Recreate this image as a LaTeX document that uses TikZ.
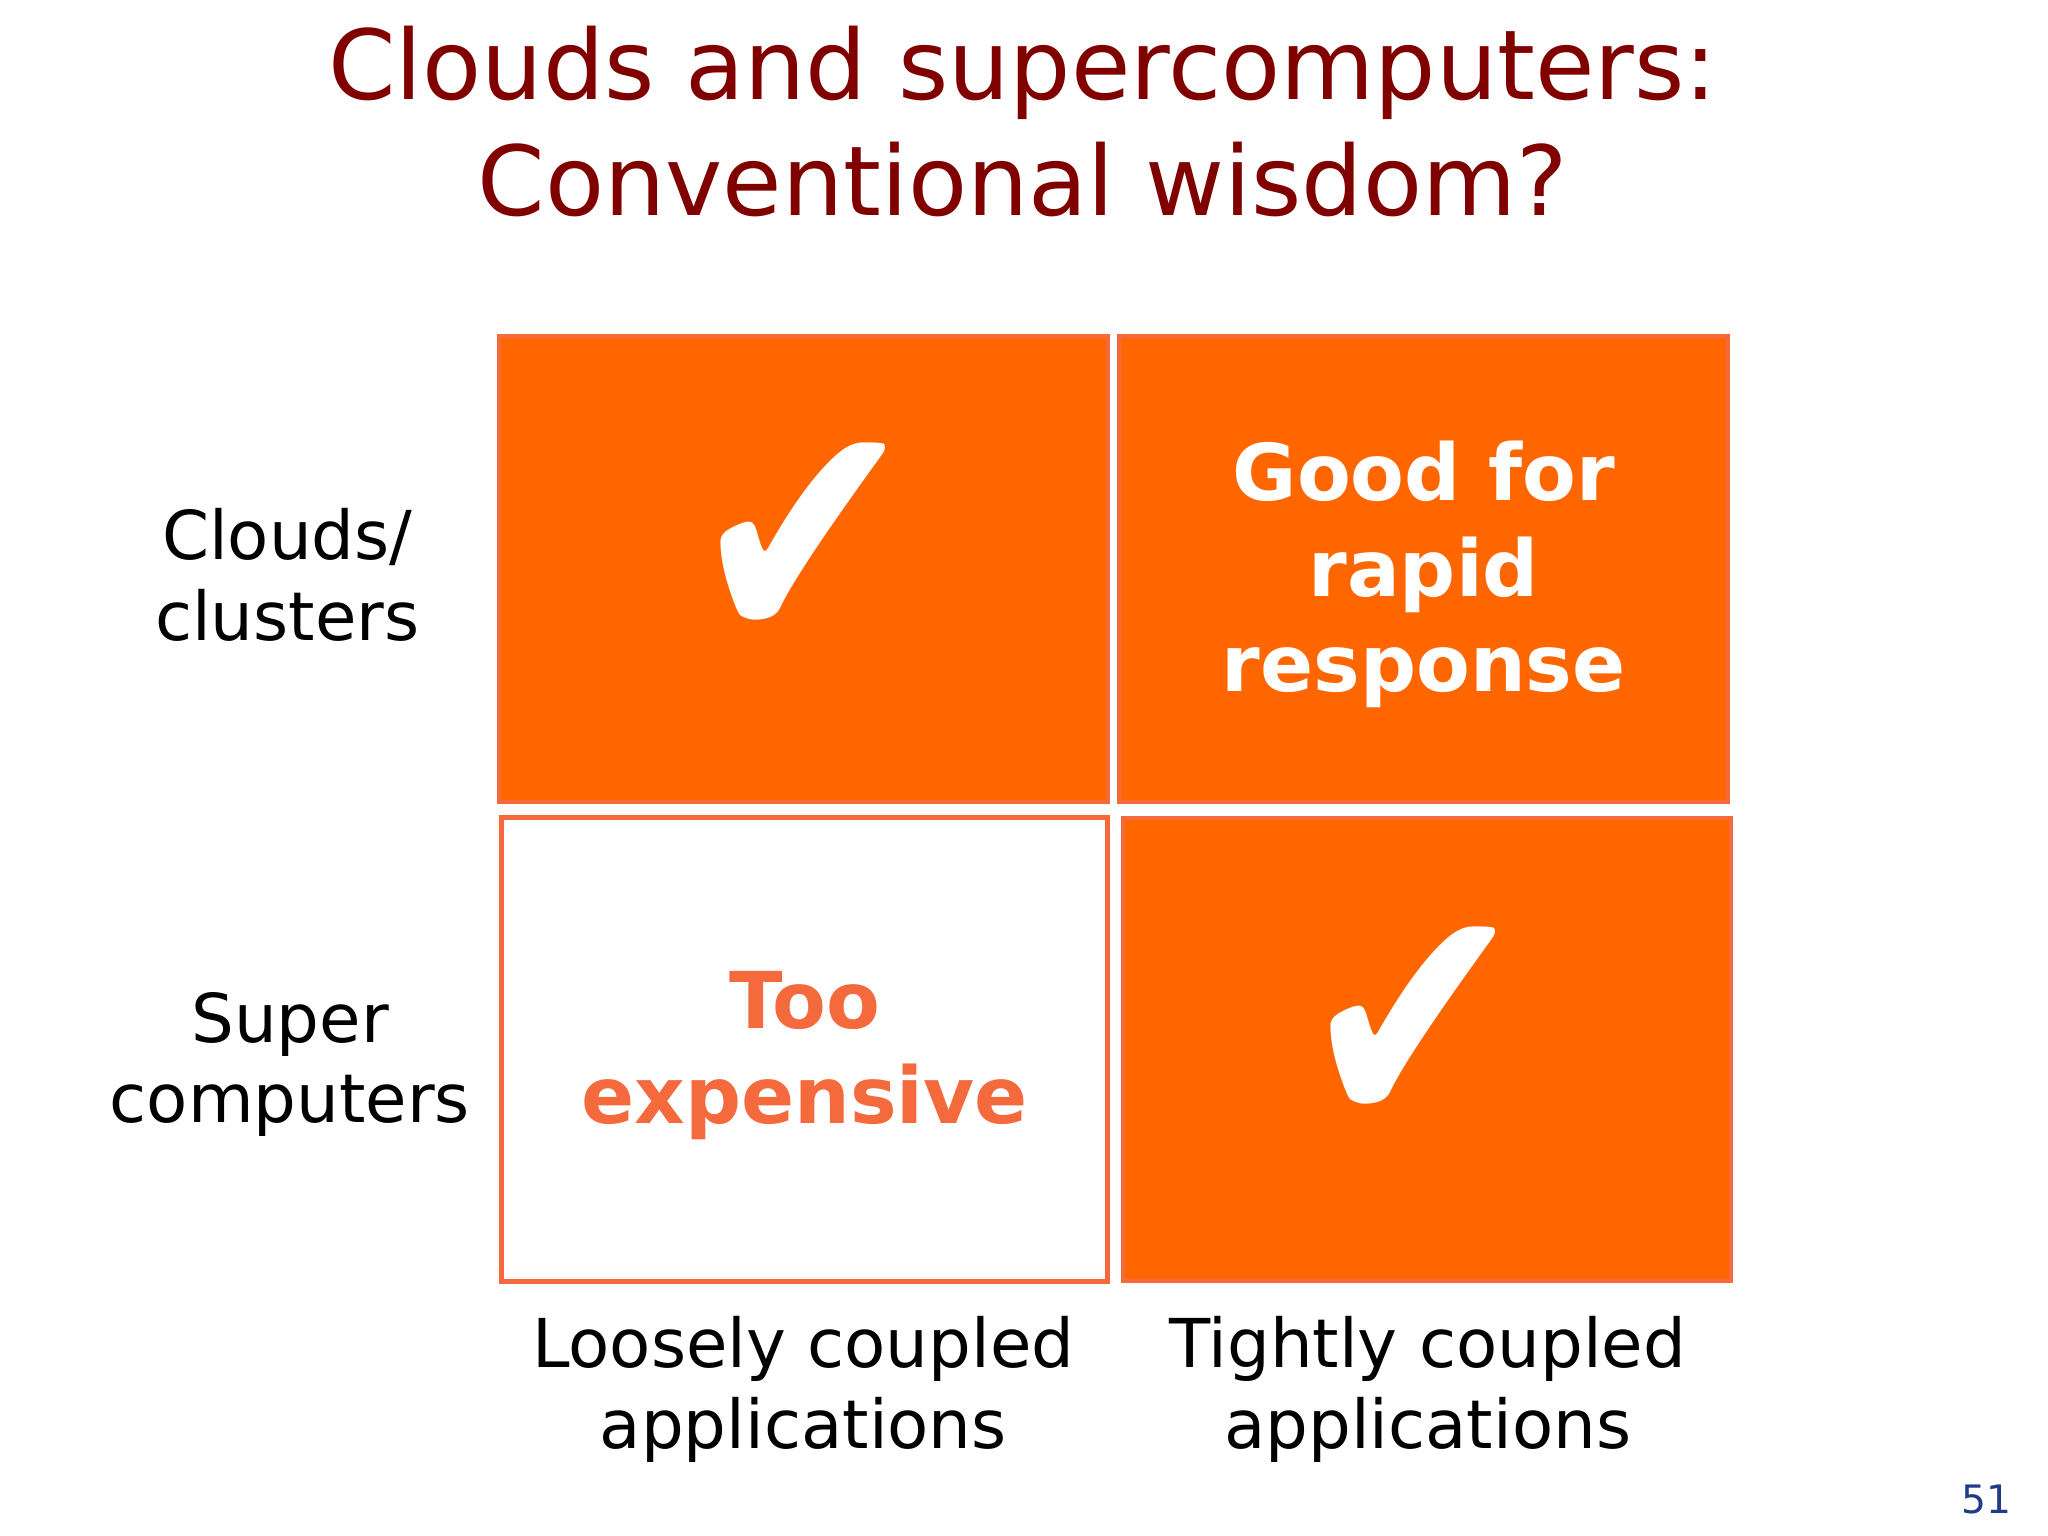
\documentclass[tikz,border=0pt]{standalone}
\usepackage{fontspec}
\setmainfont{DejaVu Sans}
\definecolor{titlered}{HTML}{800000}
\definecolor{orng}{HTML}{FF6600}
\definecolor{lorng}{HTML}{F46A3C}
\definecolor{pgblue}{HTML}{1F3C88}
\begin{document}
\begin{tikzpicture}[x=0.5pt,y=-0.5pt,
  cell/.style={fill=orng,draw=lorng,line width=1.5pt},
  lbl/.style={align=center,font=\fontsize{25.8}{31}\selectfont},
  wtxt/.style={align=center,text=white,font=\bfseries\fontsize{30}{36.5}\selectfont},
  chk/.style={text=white,font=\fontsize{104}{110}\selectfont,yscale=1.2}]
\useasboundingbox (0,0) rectangle (1568,1176);
\node[align=center,text=titlered,font=\fontsize{37}{44.5}\selectfont] (title) at (783,93) {Clouds and supercomputers:\\Conventional wisdom?};
\draw[cell] (382,257) rectangle (848,614);
\draw[cell] (857,257) rectangle (1323,614);
\draw[draw=lorng,line width=2pt,fill=white] (384,626) rectangle (848,981);
\draw[cell] (860,626) rectangle (1325,981);
\node[chk] (c1) at (615,418) {✔};
\node[chk] (c2) at (1082,788) {✔};
\node[wtxt] (g) at (1090,440) {Good for\\rapid\\response};
\node[wtxt,text=lorng] (t) at (616,808) {Too\\expensive};
\node[lbl] (l1) at (220,440) {Clouds/\\clusters};
\node[lbl] (l2) at (222,815) {Super\\computers};
\node[lbl] (b1) at (615,1064) {Loosely coupled\\applications};
\node[lbl] (b2) at (1093,1064) {Tightly coupled\\applications};
\node[text=pgblue,font=\fontsize{15}{16}\selectfont] (pg) at (1521,1148) {51};
\end{tikzpicture}
\end{document}
